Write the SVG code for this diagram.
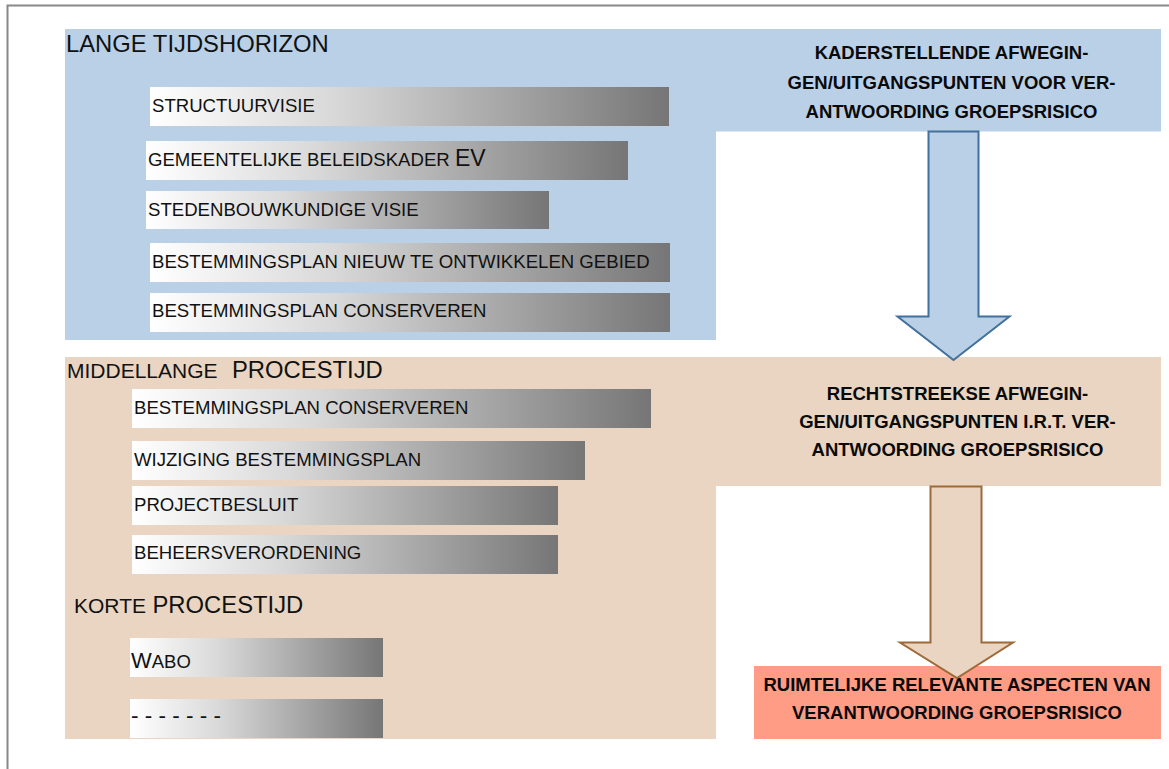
<svg xmlns="http://www.w3.org/2000/svg" width="1169" height="769" viewBox="0 0 1169 769">
<style>
  text { font-family: "Liberation Sans", Arial, sans-serif; fill: #111; }
  .bar { font-size: 18.6px; }
  .title { font-size: 23.8px; }
  .sub { font-size: 21px; }
  .bold { font-size: 18.5px; font-weight: bold; text-anchor: middle; fill: #0a0a0a; }
  .blue { fill: #BAD0E7; }
  .tan { fill: #E9D5C1; }
</style>
<defs>
  <linearGradient id="g" x1="0" y1="0" x2="1" y2="0">
    <stop offset="0" stop-color="#FFFFFF"/>
    <stop offset="0.35" stop-color="#D9D9D9"/>
    <stop offset="1" stop-color="#767676"/>
  </linearGradient>
</defs>
<rect x="0" y="0" width="1169" height="769" fill="#FFFFFF"/>
<g id="frame" fill="none" stroke="#888888" stroke-width="2">
  <path d="M7.5,769 V5.5 H1169"/>
</g>

<g id="lange">
  <path class="blue" d="M65,29 H1161 V131.5 H716 V340 H65 Z"/>
  <text class="title" x="66" y="52">LANGE TIJDSHORIZON</text>
</g>
<g id="kaderstellende">
  <text class="bold" x="951.5" y="59">KADERSTELLENDE AFWEGIN-</text>
  <text class="bold" x="951.5" y="88.5">GEN/UITGANGSPUNTEN VOOR VER-</text>
  <text class="bold" x="951.5" y="117.5">ANTWOORDING GROEPSRISICO</text>
</g>
<g id="structuurvisie">
  <rect x="150" y="87" width="519" height="39" fill="url(#g)"/>
  <text class="bar" x="152" y="112">STRUCTUURVISIE</text>
</g>
<g id="beleidskader">
  <rect x="146" y="141" width="482" height="39" fill="url(#g)"/>
  <text class="bar" x="148" y="166">GEMEENTELIJKE BELEIDSKADER <tspan font-size="23">EV</tspan></text>
</g>
<g id="stedenbouwkundig">
  <rect x="146" y="191" width="403" height="38" fill="url(#g)"/>
  <text class="bar" x="148" y="216">STEDENBOUWKUNDIGE VISIE</text>
</g>
<g id="bp-nieuw">
  <rect x="150" y="243" width="520" height="39" fill="url(#g)"/>
  <text class="bar" x="152" y="268">BESTEMMINGSPLAN NIEUW TE ONTWIKKELEN GEBIED</text>
</g>
<g id="bp-conserveren-1">
  <rect x="150" y="293" width="520" height="39" fill="url(#g)"/>
  <text class="bar" x="152" y="317">BESTEMMINGSPLAN CONSERVEREN</text>
</g>

<g id="middellange">
  <path class="tan" d="M65,357 H1161 V486 H716 V739 H65 Z"/>
  <text x="67" y="378"><tspan class="sub">MIDDELLANGE</tspan><tspan class="title" x="232">PROCESTIJD</tspan></text>
  <text x="74" y="613"><tspan class="sub">KORTE</tspan><tspan class="title" x="152.5">PROCESTIJD</tspan></text>
</g>
<g id="rechtstreekse">
  <text class="bold" x="957.5" y="399.5">RECHTSTREEKSE AFWEGIN-</text>
  <text class="bold" x="957.5" y="427.5">GEN/UITGANGSPUNTEN I.R.T. VER-</text>
  <text class="bold" x="957.5" y="455.5">ANTWOORDING GROEPSRISICO</text>
</g>
<g id="bp-conserveren-2">
  <rect x="132" y="389" width="519" height="39" fill="url(#g)"/>
  <text class="bar" x="134" y="414">BESTEMMINGSPLAN CONSERVEREN</text>
</g>
<g id="wijziging">
  <rect x="132" y="441" width="453" height="39" fill="url(#g)"/>
  <text class="bar" x="134" y="466">WIJZIGING BESTEMMINGSPLAN</text>
</g>
<g id="projectbesluit">
  <rect x="132" y="486" width="426" height="39" fill="url(#g)"/>
  <text class="bar" x="134" y="511">PROJECTBESLUIT</text>
</g>
<g id="beheersverordening">
  <rect x="132" y="535" width="426" height="39" fill="url(#g)"/>
  <text class="bar" x="134" y="559">BEHEERSVERORDENING</text>
</g>
<g id="wabo">
  <rect x="130" y="638" width="253" height="39" fill="url(#g)"/>
  <text x="131" y="668"><tspan font-size="22">W</tspan><tspan font-size="18.5">ABO</tspan></text>
</g>
<g id="overig">
  <rect x="130" y="699" width="253" height="39" fill="url(#g)"/>
  <text x="131" y="723" font-size="22.5">- - - - - - -</text>
</g>

<g id="ruimtelijke">
  <rect x="754" y="666" width="407" height="73" fill="#FF9C85"/>
  <text class="bold" x="957" y="691">RUIMTELIJKE RELEVANTE ASPECTEN VAN</text>
  <text class="bold" x="957" y="718.5">VERANTWOORDING GROEPSRISICO</text>
</g>

<g id="connectors" stroke-width="2" stroke-linejoin="miter">
  <path d="M928.5,131.5 H978.5 V316.5 H1009.5 L953.5,360 L897.5,316.5 H928.5 Z" fill="#BAD0E7" stroke="#41719C"/>
  <path d="M930.5,486.5 H981.5 V642.5 H1013 L957,678 L900,642.5 H930.5 Z" fill="#E9D5C1" stroke="#9E6A38"/>
</g>
</svg>
